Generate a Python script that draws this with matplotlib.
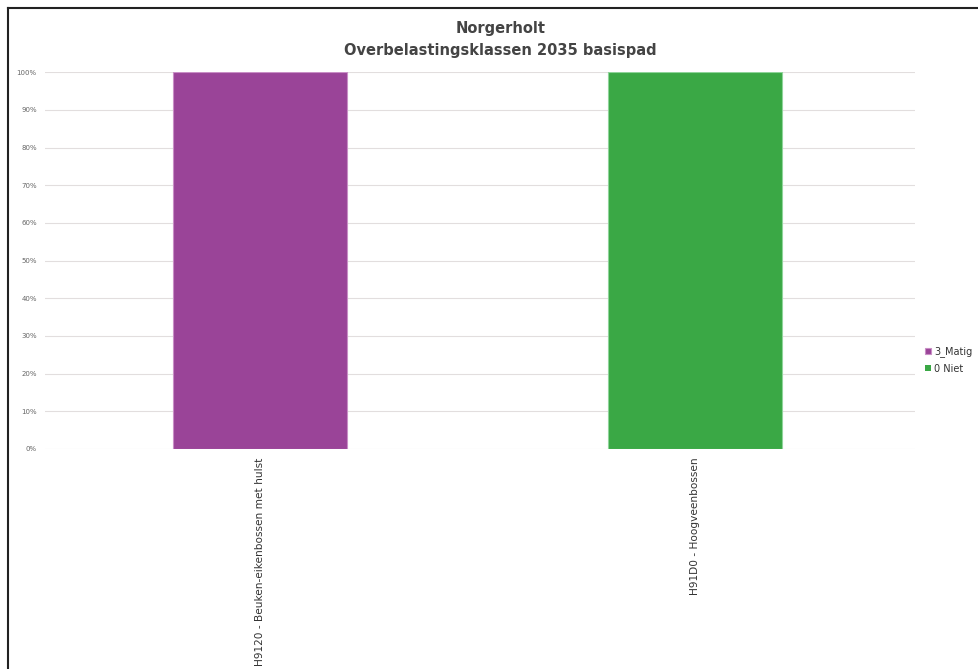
import matplotlib.pyplot as plt
from matplotlib.lines import Line2D

# --- Data ---
categories = ["H9120 - Beuken-eikenbossen met hulst", "H91D0 - Hoogveenbossen"]
series_names = ["3_Matig", "0 Niet"]
matig = [100, 0]
niet = [0, 100]
colors = ["#9a4498", "#3aa845"]
edges = ["#c98fc6", "#8fd49a"]

fig = plt.figure(figsize=(9.79, 6.69), dpi=100)
ax = fig.add_axes([0.046, 0.329, 0.889, 0.563])

x = range(len(categories))
# no outline on empty segments
ax.bar(x, matig, width=0.4, color=colors[0],
       edgecolor=[edges[0] if v else "none" for v in matig], linewidth=0.8,
       label=series_names[0], zorder=3)
ax.bar(x, niet, width=0.4, bottom=matig, color=colors[1],
       edgecolor=[edges[1] if v else "none" for v in niet], linewidth=0.8,
       label=series_names[1], zorder=3)

ax.set_xlim(-0.493, 1.507)
ax.set_ylim(0, 100)
ax.set_yticks(range(0, 101, 10))
ax.set_yticklabels([f"{v}%" for v in range(0, 101, 10)], fontsize=5, color="#666666")
ax.set_xticks(list(x))
ax.set_xticklabels(categories, rotation=90, fontsize=7.6, color="#333333",
                   va="top", ha="center")
ax.tick_params(axis="both", length=0, pad=6)
ax.grid(axis="y", color="#e2dede", linewidth=0.8, zorder=0)
for s in ax.spines.values():
    s.set_visible(False)

fig.text(0.511, 0.958, "Norgerholt", ha="center", va="center", fontsize=10.5,
         fontweight="bold", color="#444444")
fig.text(0.511, 0.924, "Overbelastingsklassen 2035 basispad", ha="center",
         va="center", fontsize=10.5, fontweight="bold", color="#444444")

fig.legend(loc="center left", bbox_to_anchor=(0.936, 0.462), frameon=False,
           fontsize=7, handlelength=0.6, handleheight=0.6, handletextpad=0.3,
           labelspacing=0.7, labelcolor="#333333")

# screenshot frame
fig.add_artist(Line2D([8 / 979, 8 / 979], [0, 1 - 8 / 669], color="#222222",
                      linewidth=1.5, transform=fig.transFigure))
fig.add_artist(Line2D([8 / 979, 1], [1 - 8 / 669, 1 - 8 / 669], color="#222222",
                      linewidth=1.5, transform=fig.transFigure))

fig.savefig("out.png", dpi=100)
